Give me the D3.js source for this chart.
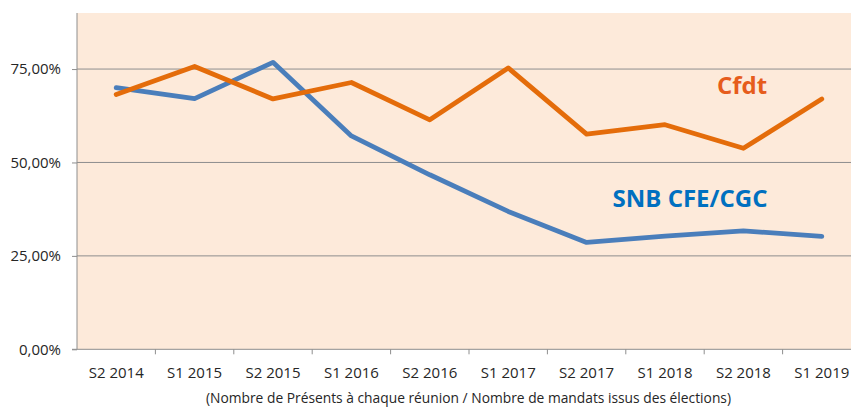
<!DOCTYPE html>
<html>
<head>
<meta charset="utf-8">
<script src="https://cdn.jsdelivr.net/npm/d3@7"></script>
<style>
    body { margin: 0; background: #fff; }
    svg { display: block; font-family: "Open Sans", sans-serif; }
</style>
</head>
<body>
<div id="chart"></div>
<script>
// periods on the x axis
const periods = ["S2 2014", "S1 2015", "S2 2015", "S1 2016", "S2 2016",
                 "S1 2017", "S2 2017", "S1 2018", "S2 2018", "S1 2019"];
// attendance rate, SNB CFE/CGC
const snbValues = [0.70, 0.671, 0.768, 0.571, 0.467, 0.369, 0.286, 0.303, 0.317, 0.302];
// attendance rate, Cfdt
const cfdtValues = [0.682, 0.757, 0.670, 0.714, 0.614, 0.753, 0.576, 0.601, 0.538, 0.670];
const yTicks = [0, 0.25, 0.5, 0.75];
const subtitle = "(Nombre de Présents à chaque réunion / Nombre de mandats issus des élections)";

let width = 851, height = 407;
let margin = {top: 13, left: 77, bottom: 57.7};
let plotRight = 861; // plot runs past the picture edge

let x = d3.scaleBand()
    .domain(periods)
    .range([margin.left, plotRight])
    .padding(0);

let y = d3.scaleLinear()
    .domain([0, 0.9])
    .range([height - margin.bottom, margin.top]);

let fr = d3.formatLocale({decimal: ",", thousands: " ", grouping: [3], currency: ["", " €"], percent: "%"});
let pct = fr.format(".2%");

let svg = d3.select("#chart").append("svg")
    .attr("width", width)
    .attr("height", height);

// plot area
svg.append("rect")
    .attr("x", margin.left)
    .attr("y", margin.top)
    .attr("width", plotRight - margin.left)
    .attr("height", y(0) - margin.top)
    .attr("fill", "#fdeada");

// gridlines
svg.append("g")
    .selectAll("line")
    .data(yTicks.filter(d => d > 0))
    .join("line")
    .attr("x1", margin.left)
    .attr("x2", plotRight)
    .attr("y1", d => y(d))
    .attr("y2", d => y(d))
    .attr("stroke", "#8e8e8e")
    .attr("stroke-width", 1);

// y axis
let yAxis = svg.append("g")
    .attr("transform", "translate(" + margin.left + ",0)")
    .call(d3.axisLeft(y).tickValues(yTicks).tickFormat(pct).tickSize(5).tickPadding(11));
yAxis.select(".domain")
    .attr("d", "M0," + margin.top + "V" + y(0));

// x axis: labels under band centers, ticks on band boundaries
let xAxis = svg.append("g")
    .attr("transform", "translate(0," + y(0) + ")")
    .call(d3.axisBottom(x).tickSize(0).tickPadding(18));
xAxis.select(".domain")
    .attr("d", "M" + (margin.left - 5) + ",0H" + plotRight);
xAxis.selectAll(".bound")
    .data(periods.slice(1))
    .join("line")
    .attr("class", "bound")
    .attr("x1", d => x(d))
    .attr("x2", d => x(d))
    .attr("y1", 0)
    .attr("y2", 5);

svg.selectAll(".domain, .tick line, .bound")
    .attr("stroke", "#8e8e8e")
    .attr("stroke-width", 1);
svg.selectAll(".tick text")
    .attr("fill", "#262626")
    .style("font-size", "15px")
    .style("font-family", "'Open Sans', sans-serif");

// lines
let line = d3.line()
    .x((d, i) => x(periods[i]) + x.bandwidth() / 2)
    .y(d => y(d));

svg.append("path")
    .datum(snbValues)
    .attr("d", line)
    .attr("fill", "none")
    .attr("stroke", "#4a7ebb")
    .attr("stroke-width", 4.8)
    .attr("stroke-linejoin", "round")
    .attr("stroke-linecap", "round");

svg.append("path")
    .datum(cfdtValues)
    .attr("d", line)
    .attr("fill", "none")
    .attr("stroke", "#e46c0a")
    .attr("stroke-width", 4.8)
    .attr("stroke-linejoin", "round")
    .attr("stroke-linecap", "round");

// series labels
svg.append("text")
    .attr("x", 742)
    .attr("y", 93.5)
    .attr("text-anchor", "middle")
    .attr("fill", "#e65c1c")
    .style("font-size", "24px")
    .style("font-weight", "bold")
    .text("Cfdt");

svg.append("text")
    .attr("x", 690)
    .attr("y", 207)
    .attr("text-anchor", "middle")
    .attr("fill", "#0070c0")
    .style("font-size", "24px")
    .style("font-weight", "bold")
    .text("SNB CFE/CGC");

// note under the axis
svg.append("text")
    .attr("x", 468.5)
    .attr("y", 402.5)
    .attr("text-anchor", "middle")
    .attr("fill", "#262626")
    .style("font-size", "13.8px")
    .text(subtitle);
</script>
</body>
</html>
